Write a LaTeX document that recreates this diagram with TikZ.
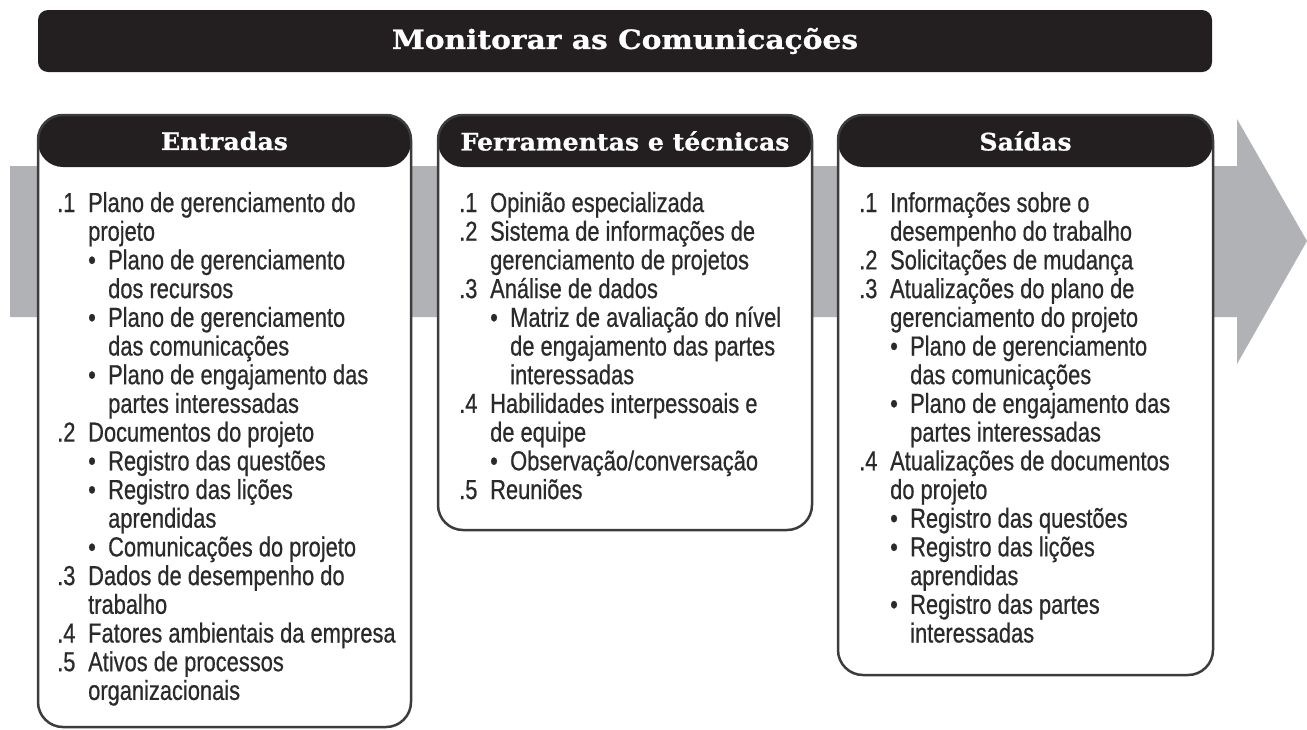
\documentclass[tikz,border=0pt]{standalone}
\usepackage{fontspec}
\setmainfont{Liberation Sans}[FakeStretch=0.795,FakeBold=0.6]
\newfontfamily\hdrfont{DejaVu Serif}[FakeStretch=1.05,FakeBold=0.8]
\newfontfamily\ttlfont{DejaVu Serif}[FakeStretch=1.12,FakeBold=0.8]
\definecolor{inkdark}{HTML}{231F20}
\definecolor{arrowgray}{HTML}{B1B2B6}
\definecolor{edgegray}{HTML}{3C3C3C}
\definecolor{txtgray}{HTML}{2A2A2A}
\newcommand{\Ni}[2]{\makebox[31pt][l]{#1}#2}
\newcommand{\Nc}[1]{\hspace*{31pt}#1}
\newcommand{\Nb}[1]{\hspace*{31pt}\makebox[20pt][l]{\textbullet}#1}
\newcommand{\Nbc}[1]{\hspace*{51pt}#1}
\tikzset{
  titlebar/.style={fill=inkdark, rounded corners=10pt, inner sep=0pt,
    minimum width=1174pt, minimum height=62pt, text=white,
    font=\ttlfont\bfseries\fontsize{26.5}{30}\selectfont},
  colbox/.style={draw=edgegray, line width=2.5pt, fill=white, rounded corners=25pt,
    minimum width=#1, inner sep=0pt,
    path picture={\fill[inkdark] (path picture bounding box.north west) rectangle ([yshift=-52pt]path picture bounding box.north east);}},
  colhead/.style={text=white, inner sep=0pt, font=\hdrfont\bfseries\fontsize{24}{28}\selectfont},
  coltext/.style={anchor=base west, inner sep=0pt, text=txtgray},
}
\newcommand{\coltxt}[1]{\parbox[t]{350pt}{\fontsize{27.5}{28.7}\selectfont\raggedright #1}}
\begin{document}
\begin{tikzpicture}[x=1pt,y=-1pt]
\useasboundingbox (0,0) rectangle (1307,729);
% big gray arrow
\fill[arrowgray] (10,166) -- (1237,166) -- (1237,119) -- (1307,241) -- (1237,364) -- (1237,317) -- (10,317) -- cycle;
% title
\node[titlebar] (title) at (625,41) {Monitorar as Comunicações};
% boxes
\node[colbox=373pt, minimum height=612pt] (b1) at (224.5,421) {};
\node[colbox=374pt, minimum height=415pt] (b2) at (625,322.5) {};
\node[colbox=375pt, minimum height=560pt] (b3) at (1025.5,395) {};
% headers
\node[colhead] (h1) at (224.5,141) {Entradas};
\node[colhead] (h2) at (625,141) {Ferramentas e técnicas};
\node[colhead] (h3) at (1025.5,141) {Saídas};
% texts
\node[coltext] (t1) at (57,212) {\coltxt{%
\Ni{.1}{Plano de gerenciamento do}\\
\Nc{projeto}\\
\Nb{Plano de gerenciamento}\\
\Nbc{dos recursos}\\
\Nb{Plano de gerenciamento}\\
\Nbc{das comunicações}\\
\Nb{Plano de engajamento das}\\
\Nbc{partes interessadas}\\
\Ni{.2}{Documentos do projeto}\\
\Nb{Registro das questões}\\
\Nb{Registro das lições}\\
\Nbc{aprendidas}\\
\Nb{Comunicações do projeto}\\
\Ni{.3}{Dados de desempenho do}\\
\Nc{trabalho}\\
\Ni{.4}{Fatores ambientais da empresa}\\
\Ni{.5}{Ativos de processos}\\
\Nc{organizacionais}}};
\node[coltext] (t2) at (459,212) {\coltxt{%
\Ni{.1}{Opinião especializada}\\
\Ni{.2}{Sistema de informações de}\\
\Nc{gerenciamento de projetos}\\
\Ni{.3}{Análise de dados}\\
\Nb{Matriz de avaliação do nível}\\
\Nbc{de engajamento das partes}\\
\Nbc{interessadas}\\
\Ni{.4}{Habilidades interpessoais e}\\
\Nc{de equipe}\\
\Nb{Observação/conversação}\\
\Ni{.5}{Reuniões}}};
\node[coltext] (t3) at (859,212) {\coltxt{%
\Ni{.1}{Informações sobre o}\\
\Nc{desempenho do trabalho}\\
\Ni{.2}{Solicitações de mudança}\\
\Ni{.3}{Atualizações do plano de}\\
\Nc{gerenciamento do projeto}\\
\Nb{Plano de gerenciamento}\\
\Nbc{das comunicações}\\
\Nb{Plano de engajamento das}\\
\Nbc{partes interessadas}\\
\Ni{.4}{Atualizações de documentos}\\
\Nc{do projeto}\\
\Nb{Registro das questões}\\
\Nb{Registro das lições}\\
\Nbc{aprendidas}\\
\Nb{Registro das partes}\\
\Nbc{interessadas}}};
\end{tikzpicture}
\end{document}
